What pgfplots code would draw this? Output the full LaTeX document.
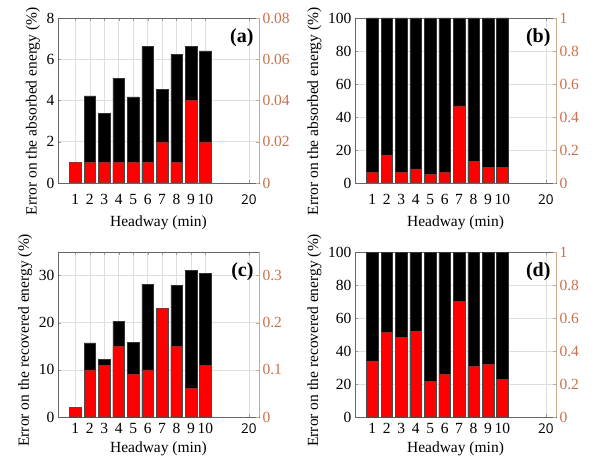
\documentclass[border=0pt]{standalone}
\usepackage{pgfplots}
\pgfplotsset{compat=1.18}
\usepackage{fontspec}
\setmainfont{Liberation Serif}
\newfontfamily\sansf{Open Sans}
\definecolor{rtick}{RGB}{200,112,78}
\definecolor{rline}{RGB}{205,170,135}
\definecolor{gridc}{RGB}{222,222,222}
\definecolor{barred}{RGB}{255,0,0}
\newcommand{\tw}{\fontsize{20}{22}\selectfont\bfseries}
\pgfplotsset{
  base/.style={scale only axis, width=201pt, height=165pt,
    xmin=-0.2, xmax=13.7, ymin=0, anchor=south west,
    /pgf/number format/assume math mode=true,
    tick label style={font=\fontsize{15.5}{17}\selectfont},
    label style={font=\fontsize{15.5}{17}\selectfont},
  },
  left/.style={base,
    xtick={1,2,3,4,5,6,7,8,9,10,13},
    xticklabels={1,2,3,4,5,6,7,8,9,10,{\sansf\fontsize{13.5}{15}\selectfont 20}},
    xmajorgrids, ymajorgrids, grid style={gridc, line width=0.6pt},
    axis line style={black!60}, tick style={black!40}, major tick length=3pt,
    ytick pos=left, xlabel={Headway (min)},
  },
  toprow/.style={xticklabel style={yshift=-8pt}, xlabel style={yshift=-4pt},
    ylabel style={at={(ticklabel cs:0.435)}}},
  botrow/.style={xticklabel style={yshift=-3pt}, xlabel style={yshift=-1pt},
    ylabel style={at={(ticklabel cs:0.465)}}},
  right/.style={base, axis y line*=right, axis x line=none,
    y axis line style={rline, line width=0.8pt},
    yticklabel style={rtick, /pgf/number format/fixed},
    ytick style={rline}, major tick length=3pt,
    scaled y ticks=false,
  },
  blk/.style={ybar, bar width=0.8, fill=black, draw=black!80, line width=0.5pt},
  rd/.style={ybar, bar width=0.8, fill=barred, draw=black!70, line width=0.5pt},
}
\begin{document}
\begin{tikzpicture}
\path[use as bounding box] (0pt,0pt) rectangle (595pt,464pt);
% (a)
\begin{axis}[left, toprow, at={(58pt,281pt)}, ymax=8, ytick={0,2,4,6,8},
  ylabel={Error on the absorbed energy (\%)}]
\addplot[blk] coordinates {(1,1) (2,4.23) (3,3.39) (4,5.09) (5,4.18) (6,6.63) (7,4.55) (8,6.25) (9,6.63) (10,6.41)};
\end{axis}
\begin{axis}[right, at={(58pt,281pt)}, ymax=0.08, ytick={0,0.02,0.04,0.06,0.08}]
\addplot[rd] coordinates {(1,0.01) (2,0.01) (3,0.01) (4,0.01) (5,0.01) (6,0.01) (7,0.02) (8,0.01) (9,0.04) (10,0.02)};
\node[anchor=north east, font=\tw] at (rel axis cs:0.99,0.96) {(a)};
\end{axis}
% (b)
\begin{axis}[left, toprow, at={(355pt,281pt)}, ymax=100, ytick={0,20,40,60,80,100},
  ylabel={Error on the absorbed energy (\%)}]
\addplot[blk] coordinates {(1,100) (2,100) (3,100) (4,100) (5,100) (6,100) (7,100) (8,100) (9,100) (10,100)};
\end{axis}
\begin{axis}[right, at={(355pt,281pt)}, ymax=1, ytick={0,0.2,0.4,0.6,0.8,1}]
\addplot[rd] coordinates {(1,0.063) (2,0.17) (3,0.063) (4,0.086) (5,0.052) (6,0.063) (7,0.467) (8,0.132) (9,0.096) (10,0.096)};
\node[anchor=north east, font=\tw] at (rel axis cs:0.99,0.96) {(b)};
\end{axis}
% (c)
\begin{axis}[left, botrow, at={(58pt,47pt)}, ymax=35, ytick={0,10,20,30},
  ylabel={Error on the recovered energy (\%)}]
\addplot[blk] coordinates {(1,2) (2,15.7) (3,12.3) (4,20.3) (5,15.8) (6,28.2) (7,22) (8,28) (9,31.1) (10,30.4)};
\end{axis}
\begin{axis}[right, at={(58pt,47pt)}, ymax=0.35, ytick={0,0.1,0.2,0.3}]
\addplot[rd] coordinates {(1,0.02) (2,0.10) (3,0.11) (4,0.15) (5,0.09) (6,0.10) (7,0.23) (8,0.15) (9,0.06) (10,0.11)};
\node[anchor=north east, font=\tw] at (rel axis cs:0.99,0.96) {(c)};
\end{axis}
% (d)
\begin{axis}[left, botrow, at={(355pt,47pt)}, ymax=100, ytick={0,20,40,60,80,100},
  ylabel={Error on the recovered energy (\%)}]
\addplot[blk] coordinates {(1,100) (2,100) (3,100) (4,100) (5,100) (6,100) (7,100) (8,100) (9,100) (10,100)};
\end{axis}
\begin{axis}[right, at={(355pt,47pt)}, ymax=1, ytick={0,0.2,0.4,0.6,0.8,1}]
\addplot[rd] coordinates {(1,0.34) (2,0.514) (3,0.482) (4,0.522) (5,0.217) (6,0.26) (7,0.703) (8,0.309) (9,0.319) (10,0.23)};
\node[anchor=north east, font=\tw] at (rel axis cs:0.99,0.96) {(d)};
\end{axis}
\end{tikzpicture}
\end{document}
